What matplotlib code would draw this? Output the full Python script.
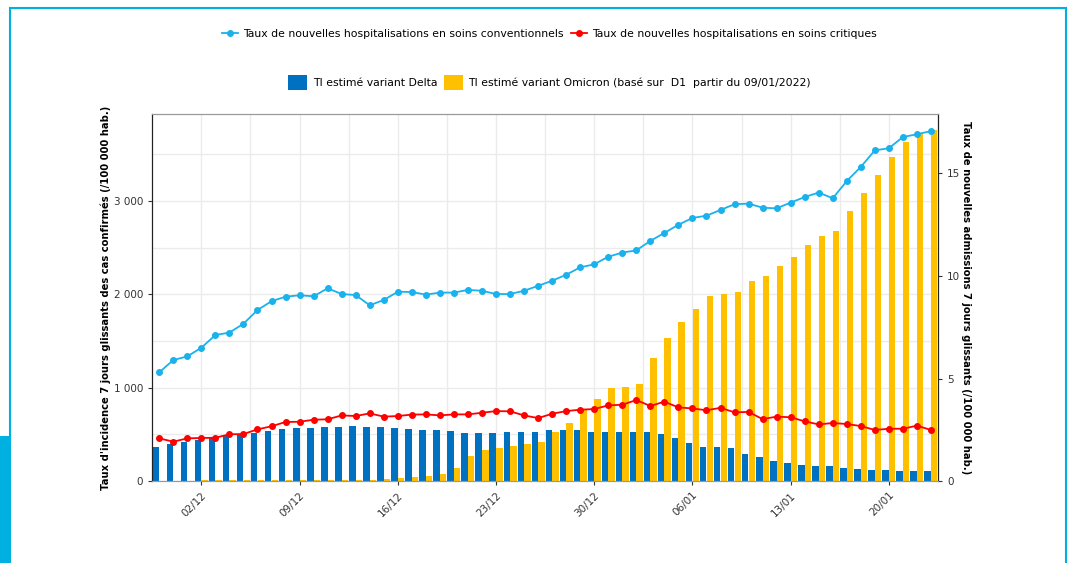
import numpy as np
import pandas as pd
import matplotlib
matplotlib.use("Agg")
import matplotlib.pyplot as plt
from matplotlib.patches import Rectangle
from matplotlib.ticker import FuncFormatter

# jours du 29/11/2021 au 23/01/2022
dates = pd.date_range("2021-11-29", "2022-01-23", freq="D")
tick_labels = ["02/12", "09/12", "16/12", "23/12", "30/12", "06/01", "13/01", "20/01"]

# TI (/100 000 hab.), axe gauche
ti_delta = [368, 397, 421, 443, 468, 490, 500, 514, 539, 557, 568, 571, 582, 580,
            589, 582, 579, 568, 561, 550, 550, 532, 514, 511, 514, 522, 522, 522,
            550, 550, 550, 529, 522, 522, 529, 529, 500, 457, 404, 364, 361, 354,
            289, 254, 218, 197, 168, 161, 161, 139, 129, 121, 114, 104, 104, 104]
ti_omicron = [2, 3, 5, 6, 6, 7, 7, 8, 8, 9, 10, 10, 11, 12, 13, 15, 18, 29,
              43, 54, 75, 139, 271, 332, 354, 375, 397, 418, 522, 622, 758, 875,
              997, 1008, 1040, 1315, 1529, 1701, 1840, 1979, 2008, 2026, 2140, 2197, 2304, 2401,
              2522, 2626, 2672, 2890, 3087, 3280, 3465, 3626, 3719, 3754]

# admissions (/100 000 hab.), axe droit
hosp_conv = [5.30, 5.90, 6.08, 6.50, 7.12, 7.24, 7.67, 8.34, 8.77, 8.99, 9.06, 9.01,
             9.40, 9.12, 9.07, 8.57, 8.83, 9.23, 9.22, 9.09, 9.19, 9.19, 9.32, 9.28,
             9.12, 9.12, 9.28, 9.52, 9.77, 10.06, 10.42, 10.57, 10.94, 11.14, 11.25, 11.71,
             12.10, 12.50, 12.83, 12.94, 13.22, 13.50, 13.53, 13.33, 13.30, 13.58, 13.85, 14.07,
             13.79, 14.63, 15.32, 16.13, 16.23, 16.78, 16.91, 17.07]
hosp_crit = [2.08, 1.92, 2.08, 2.10, 2.11, 2.28, 2.29, 2.52, 2.67, 2.88, 2.89, 2.99,
             3.01, 3.20, 3.17, 3.30, 3.14, 3.17, 3.24, 3.25, 3.20, 3.25, 3.25, 3.33,
             3.41, 3.40, 3.20, 3.07, 3.28, 3.41, 3.48, 3.51, 3.69, 3.72, 3.95, 3.66,
             3.87, 3.59, 3.54, 3.45, 3.57, 3.35, 3.37, 3.02, 3.14, 3.11, 2.91, 2.76,
             2.83, 2.78, 2.68, 2.49, 2.55, 2.55, 2.70, 2.49]

c_delta = "#0070C0"
c_omicron = "#FFC000"
c_conv = "#1AB2EC"
c_crit = "#FF0000"
cyan = "#00B0E0"

x = np.arange(len(dates))
labels_all = [d.strftime("%d/%m") for d in dates]
tick_pos = [labels_all.index(t) for t in tick_labels]

fig = plt.figure(figsize=(10.71, 5.63), dpi=100)
ax = fig.add_axes([0.1419, 0.1456, 0.7339, 0.6519])

w = 0.46
b1 = ax.bar(x - 0.235, ti_delta, width=w, color=c_delta, zorder=2)
b2 = ax.bar(x + 0.235, ti_omicron, width=w, color=c_omicron, zorder=2)

ax.set_xlim(-0.52, len(x) - 0.55)
ax.set_ylim(0, 3930)
ax.set_yticks([0, 1000, 2000, 3000])
ax.set_yticks([500, 1500, 2500, 3500], minor=True)
ax.yaxis.set_major_formatter(FuncFormatter(lambda v, p: f"{int(v):,}".replace(",", " ")))
ax.set_xticks(tick_pos)
ax.set_xticks([p + 3.5 for p in tick_pos], minor=True)
ax.set_xticklabels(tick_labels, rotation=45, ha="right", rotation_mode="anchor")
ax.grid(True, which="both", color="#ebebeb", linewidth=1, zorder=0)
ax.set_axisbelow(True)
ax.tick_params(axis="both", which="major", labelsize=7.5, labelcolor="#333333",
               length=3, color="#333333")
ax.tick_params(axis="both", which="minor", length=0)
ax.set_ylabel("Taux d'incidence 7 jours glissants des cas confirmés (/100 000 hab.)",
              fontsize=7.2, fontweight="bold", labelpad=2)

ax2 = ax.twinx()
l1, = ax2.plot(x, hosp_conv, color=c_conv, marker="o", markersize=4, linewidth=1.3, zorder=3)
l2, = ax2.plot(x, hosp_crit, color=c_crit, marker="o", markersize=4, linewidth=1.3, zorder=3)
ax2.set_ylim(0, 17.9)
ax2.set_yticks([0, 5, 10, 15])
ax2.tick_params(axis="y", labelsize=7.5, labelcolor="#333333", length=3, color="#333333")
ax2.set_ylabel("Taux de nouvelles admissions 7 jours glissants (/100 000 hab.)",
               fontsize=7.2, fontweight="bold", rotation=-90, labelpad=8)

for a in (ax, ax2):
    a.spines["left"].set_color("#222222")
    a.spines["right"].set_color("#222222")
    a.spines["top"].set_color("#999999")
    a.spines["bottom"].set_color("#999999")

fig.legend([l1, l2],
           ["Taux de nouvelles hospitalisations en soins conventionnels",
            "Taux de nouvelles hospitalisations en soins critiques"],
           loc="center", bbox_to_anchor=(0.513, 0.94), ncol=2, frameon=False,
           fontsize=7.8, handlelength=1.5, columnspacing=0.6, handletextpad=0.5)
fig.legend([b1, b2],
           ["TI estimé variant Delta",
            "TI estimé variant Omicron (basé sur  D1  partir du 09/01/2022)"],
           loc="center", bbox_to_anchor=(0.513, 0.853), ncol=2, frameon=False,
           fontsize=7.8, handlelength=1.8, handleheight=1.8, columnspacing=0.6, handletextpad=0.5)

# cadre de la page
W, H = 1071, 563
fig.patches.append(Rectangle((10 / W, -0.1), (1066 - 10) / W, (563 - 8) / H + 0.1,
                             transform=fig.transFigure, fill=False, edgecolor=cyan,
                             linewidth=1.5, zorder=0))
fig.patches.append(Rectangle((0, 0), 11 / W, (563 - 436) / H, transform=fig.transFigure,
                             facecolor=cyan, edgecolor="none", zorder=1))

fig.savefig("out.png", dpi=100)
